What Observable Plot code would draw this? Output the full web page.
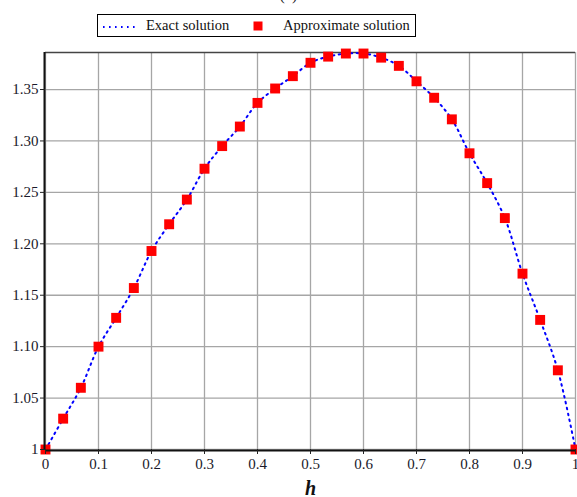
<!DOCTYPE html>
<html>
<head>
<meta charset="utf-8">
<script src="https://cdn.jsdelivr.net/npm/d3@7"></script>
<script src="https://cdn.jsdelivr.net/npm/@observablehq/plot@0.6"></script>
<style>
  html, body { margin: 0; padding: 0; background: #fff; }
  #wrap { position: relative; width: 577px; height: 497px; overflow: hidden; font-family: "Liberation Serif", "Times New Roman", "DejaVu Serif", serif; }
  #chart { position: absolute; left: 0; top: 0; }
  #chart svg, #chart svg text { font-family: "Liberation Serif", "Times New Roman", "DejaVu Serif", serif !important; }
  #title { position: absolute; left: 0; width: 577px; top: -13px; text-align: center; font-size: 16px; line-height: 16px; color: #222; }
  #legend { position: absolute; left: 97px; top: 14px; width: 317px; height: 21px; border: 1px solid #000; background: #fff; font-size: 14.5px; color: #111; }
  #legend .item { position: absolute; top: 2px; line-height: 17px; white-space: nowrap; }
</style>
</head>
<body>
<div id="wrap">
  <div id="chart"></div>
  <div id="title">(a)</div>
  <div id="legend">
    <svg style="position:absolute;left:4px;top:10px" width="36" height="4"><line x1="1" y1="2" x2="36" y2="2" stroke="#0000ff" stroke-width="2" stroke-dasharray="1.6,4.4"/></svg>
    <span class="item" style="left:48px">Exact solution</span>
    <svg style="position:absolute;left:155px;top:6px" width="10" height="10"><rect x="0.5" y="0.5" width="9" height="9" fill="#ff0000"/></svg>
    <span class="item" style="left:185px">Approximate solution</span>
  </div>
</div>
<script>
// Data
const hValues = [0, 0.0333, 0.0667, 0.1, 0.1333, 0.1667, 0.2, 0.2333, 0.2667, 0.3,
  0.3333, 0.3667, 0.4, 0.4333, 0.4667, 0.5, 0.5333, 0.5667, 0.6, 0.6333,
  0.6667, 0.7, 0.7333, 0.7667, 0.8, 0.8333, 0.8667, 0.9, 0.9333, 0.9667, 1];
const exactValues = [1.000, 1.030, 1.060, 1.100, 1.128, 1.157, 1.193, 1.219, 1.243, 1.273,
  1.295, 1.314, 1.337, 1.351, 1.363, 1.376, 1.382, 1.385, 1.385, 1.381,
  1.373, 1.358, 1.342, 1.321, 1.288, 1.259, 1.225, 1.171, 1.126, 1.077, 1.000];
const approxValues = [1.000, 1.030, 1.060, 1.100, 1.128, 1.157, 1.193, 1.219, 1.243, 1.273,
  1.295, 1.314, 1.337, 1.351, 1.363, 1.376, 1.382, 1.385, 1.385, 1.381,
  1.373, 1.358, 1.342, 1.321, 1.288, 1.259, 1.225, 1.171, 1.126, 1.077, 1.000];
const xTicks = [0, 0.1, 0.2, 0.3, 0.4, 0.5, 0.6, 0.7, 0.8, 0.9, 1];
const xTickLabels = ["0", "0.1", "0.2", "0.3", "0.4", "0.5", "0.6", "0.7", "0.8", "0.9", "1"];
const yTicks = [1, 1.05, 1.10, 1.15, 1.20, 1.25, 1.30, 1.35];
const yTickLabels = ["1", "1.05", "1.10", "1.15", "1.20", "1.25", "1.30", "1.35"];
const yTop = 1.386;

const exactData = hValues.map((h, i) => ({h, v: exactValues[i]}));
const approxData = hValues.map((h, i) => ({h, v: approxValues[i]}));

const serif = "'Liberation Serif', 'Times New Roman', 'DejaVu Serif', serif";

const chart = Plot.plot({
  width: 577,
  height: 497,
  marginTop: 52,
  marginBottom: 48,
  marginLeft: 45,
  marginRight: 2,
  style: { fontFamily: serif, fontSize: "15px", color: "#1a1a2a", background: "transparent", overflow: "visible" },
  x: { domain: [0, 1] },
  y: { domain: [1, yTop] },
  marks: [
    Plot.ruleX(xTicks, { stroke: "#a6a6a6", strokeWidth: 1.3 }),
    Plot.ruleY(yTicks, { stroke: "#a6a6a6", strokeWidth: 1.3 }),
    Plot.ruleY([yTop], { stroke: "#444", strokeWidth: 1.5 }),
    Plot.line(exactData, { x: "h", y: "v", curve: "catmull-rom", stroke: "#0000ff", strokeWidth: 2, strokeDasharray: "1.6,4.4" }),
    Plot.dot(approxData, { x: "h", y: "v", symbol: "square", r: 5.6, fill: "#ff0000", stroke: "none" }),
    Plot.ruleX([0], { stroke: "#111", strokeWidth: 2, dx: -1 }),
    Plot.ruleY([1], { stroke: "#111", strokeWidth: 1.8, dy: 1 }),
    Plot.axisY({ ticks: yTicks, tickFormat: (d, i) => yTickLabels[i], tickSize: 5, tickPadding: 2, label: null, stroke: "#222", fontSize: 15 }),
    Plot.axisX({ ticks: xTicks, tickFormat: (d, i) => xTickLabels[i], tickSize: 5, tickPadding: 4, label: null, stroke: "#222", fontSize: 15 }),
    Plot.text(["h"], { frameAnchor: "bottom", dy: 45, lineAnchor: "bottom", fontSize: 20, fontStyle: "italic", fontWeight: "bold", fill: "#111", fontFamily: serif })
  ]
});
document.getElementById("chart").appendChild(chart);
</script>
</body>
</html>
